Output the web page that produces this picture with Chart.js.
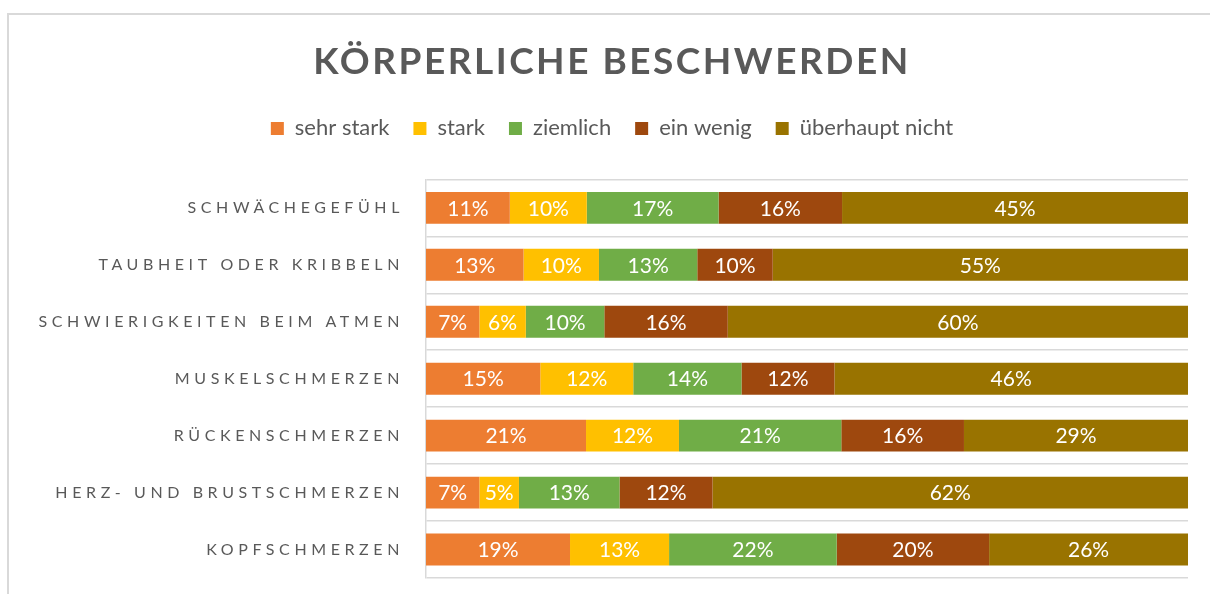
<!DOCTYPE html>
<html>
<head>
<meta charset="utf-8">
<script src="https://cdn.jsdelivr.net/npm/chart.js@4.4.0/dist/chart.umd.min.js"></script>
<style>
  html, body { margin: 0; padding: 0; background: #fff; overflow: hidden; }
  #frame { position: absolute; left: 7px; top: 13px; width: 1300px; height: 700px; border: 2px solid #d9d9d9; }
  #wrap { position: absolute; left: 0; top: 0; width: 1210px; height: 594px; }
</style>
</head>
<body>
<div id="frame"></div>
<div id="wrap"><canvas id="chart"></canvas></div>
<script>
// categories top to bottom
const categories = [
  'SCHWÄCHEGEFÜHL',
  'TAUBHEIT ODER KRIBBELN',
  'SCHWIERIGKEITEN BEIM ATMEN',
  'MUSKELSCHMERZEN',
  'RÜCKENSCHMERZEN',
  'HERZ- UND BRUSTSCHMERZEN',
  'KOPFSCHMERZEN'
];
const seriesNames = ['sehr stark', 'stark', 'ziemlich', 'ein wenig', 'überhaupt nicht'];
const seriesColors = ['#ED7D31', '#FFC000', '#70AD47', '#9E480E', '#997300'];

// percentages
const sehrStark = [11.0, 12.8, 7.0, 15.0, 21.0, 7.0, 18.9];
const stark = [10.1, 9.9, 6.1, 12.2, 12.2, 5.2, 13.0];
const ziemlich = [17.3, 12.9, 10.3, 14.2, 21.3, 13.2, 22.0];
const einWenig = [16.2, 9.9, 16.2, 12.2, 16.1, 12.2, 20.0];
const ueberhauptNicht = [45.4, 54.5, 60.4, 46.4, 29.4, 62.4, 26.1];

const seriesValues = [sehrStark, stark, ziemlich, einWenig, ueberhauptNicht];
const textColor = '#595959';
const fontFamily = 'Lato, "Open Sans", sans-serif';

// wrap a draw method so its text gets letter spacing
function withSpacing(obj, method, spacing) {
  if (!obj || obj['_spaced_' + method]) return;
  const orig = obj[method];
  obj[method] = function (...args) {
    const ctx = this.ctx;
    ctx.save();
    ctx.letterSpacing = spacing;
    orig.apply(this, args);
    ctx.restore();
  };
  obj['_spaced_' + method] = true;
}

// empty box between legend and plot area
const legendGap = {
  position: 'top',
  weight: 0,
  fullSize: true,
  options: {},
  isHorizontal() { return true; },
  update(maxWidth) {
    this.width = maxWidth;
    this.height = 30;
  },
  draw() {}
};

const spacingPlugin = {
  id: 'spacing',
  afterInit(chart) {
    Chart.layouts.addBox(chart, legendGap);
  },
  beforeDraw(chart) {
    withSpacing(chart.titleBlock, 'draw', '2.5px');
    withSpacing(chart.scales.y, 'drawLabels', '4.6px');
  }
};

const barLabels = {
  id: 'barLabels',
  afterDatasetsDraw(chart) {
    const ctx = chart.ctx;
    ctx.save();
    ctx.font = '21px ' + fontFamily;
    ctx.fillStyle = '#ffffff';
    ctx.textAlign = 'center';
    ctx.textBaseline = 'middle';
    chart.data.datasets.forEach((ds, i) => {
      chart.getDatasetMeta(i).data.forEach((bar, j) => {
        const x = (bar.x + bar.base) / 2;
        ctx.fillText(Math.round(ds.data[j]) + '%', x, bar.y + 1);
      });
    });
    ctx.restore();
  }
};

const datasets = seriesNames.map((name, i) => ({
  label: name,
  data: seriesValues[i],
  backgroundColor: seriesColors[i],
  borderWidth: 0,
  barPercentage: 0.56,
  categoryPercentage: 1.0
}));

const ctx = document.getElementById('chart').getContext('2d');
const chart = new Chart(ctx, {
  type: 'bar',
  data: { labels: categories, datasets: datasets },
  plugins: [spacingPlugin, barLabels],
  options: {
    indexAxis: 'y',
    responsive: true,
    maintainAspectRatio: false,
    animation: false,
    layout: { padding: { left: 36, right: 22, top: 0, bottom: 16 } },
    plugins: {
      title: {
        display: true,
        text: 'KÖRPERLICHE BESCHWERDEN',
        color: textColor,
        font: { family: fontFamily, size: 37, weight: 'bold' },
        padding: { top: 40, bottom: 9 }
      },
      legend: {
        position: 'top',
        labels: {
          boxWidth: 13,
          boxHeight: 13,
          color: textColor,
          font: { family: fontFamily, size: 22 },
          padding: 24
        }
      },
      tooltip: { enabled: false }
    },
    scales: {
      x: { stacked: true, min: 0, max: 100, display: false },
      y: {
        stacked: true,
        grid: { offset: true, color: '#d9d9d9', lineWidth: 1.5, drawTicks: false },
        border: { color: '#d9d9d9', width: 1.5 },
        ticks: { color: textColor, font: { family: fontFamily, size: 16 }, padding: 22 },
        afterFit(scale) {
          scale.width = 390;
          // tick padding should not push the plot area up from the bottom
          scale.paddingTop = 0;
          scale.paddingBottom = 0;
        }
      }
    }
  }
});
</script>
</body>
</html>
